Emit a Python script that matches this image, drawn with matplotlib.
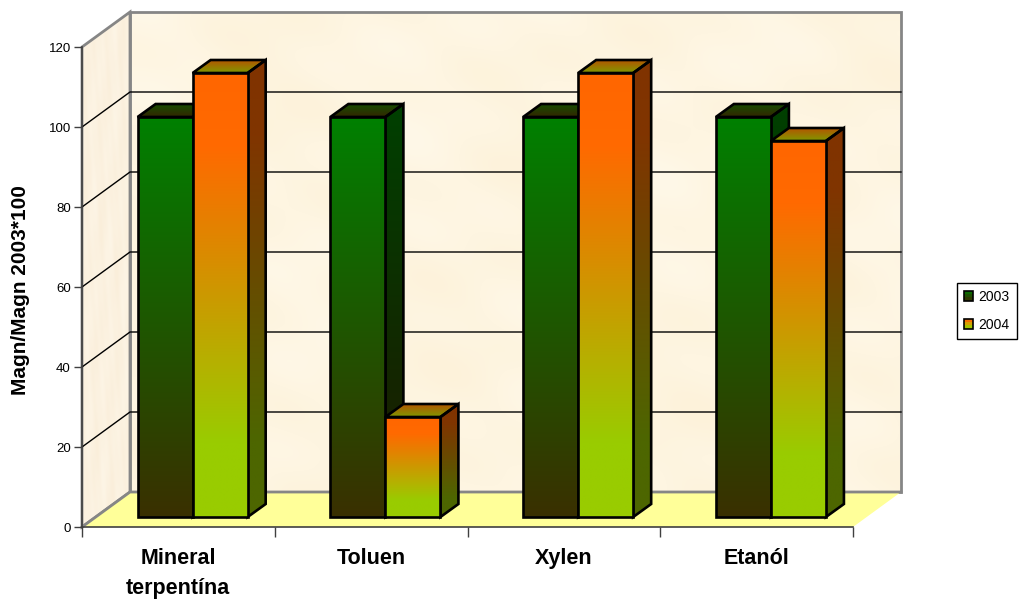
import numpy as np
import matplotlib
matplotlib.use("Agg")
import matplotlib.pyplot as plt
from matplotlib.colors import LinearSegmentedColormap as LSC
from matplotlib.patches import Polygon, Patch, Rectangle
from matplotlib.legend_handler import HandlerBase

categories = ["Mineral\nterpentína", "Toluen", "Xylen", "Etanól"]
series_names = ["2003", "2004"]
values_2003 = [100, 100, 100, 100]
values_2004 = [111, 25, 111, 94]
y_ticks = [0, 20, 40, 60, 80, 100, 120]

plt.rcParams["font.family"] = ["Liberation Sans", "DejaVu Sans"]
W, H = 1022, 599
fig = plt.figure(figsize=(W / 100, H / 100), dpi=100, facecolor="white")
ax = fig.add_axes([82 / W, 1 - 527 / H, 771 / W, 480 / H], facecolor="none")
XMAX, YMAX = 4, 120
# oblique projection, in data units
DX, DY = 48 / 771 * XMAX, 35 / 480 * YMAX      # wall depth
SX, SY = 0.074, 2.5                            # bar front offset from the front plane
BDX, BDY = 0.0934, 3.25                        # bar depth
BW = 0.2855                                    # bar width


def fill_image(poly, data, cm, z):
    pts = np.array(poly)
    x0, x1, y0, y1 = pts[:, 0].min(), pts[:, 0].max(), pts[:, 1].min(), pts[:, 1].max()
    im = ax.imshow(data, cmap=cm, vmin=0, vmax=1, extent=[x0, x1, y0, y1], origin="upper",
                   aspect="auto", zorder=z, interpolation="bilinear")
    clip = Polygon(pts, closed=True, transform=ax.transData, facecolor="none", edgecolor="none")
    ax.add_patch(clip)
    clip.set_clip_on(False)
    im.set_clip_box(fig.bbox)
    im.set_clip_path(clip)


def grad(poly, stops, z):
    cm = LSC.from_list("g", list(stops))
    fill_image(poly, np.linspace(0, 1, 256)[:, None], cm, z)
    ax.add_patch(Polygon(poly, closed=True, fill=False, edgecolor="black", lw=1.9, zorder=z + 0.1,
                         clip_on=False, joinstyle="miter"))


def mottle(nx, ny, phase):
    # soft parchment-like shading of the walls (decoration only)
    u, v = np.meshgrid(np.linspace(0, 1, nx), np.linspace(0, 1, ny))
    f = (np.sin(17 * u + 5 * v + phase) + np.sin(9 * v - 23 * u + 2 * phase)
         + np.sin(31 * v + 11 * u + 3 * phase) + 0.7 * np.sin(47 * u - 37 * v + phase))
    return (f - f.min()) / (f.max() - f.min())


WALL = "#868686"
back = [(DX, DY), (XMAX + DX, DY), (XMAX + DX, YMAX + DY), (DX, YMAX + DY)]
side = [(0, 0), (DX, DY), (DX, YMAX + DY), (0, YMAX)]
fill_image(back, mottle(300, 200, 0.7), LSC.from_list("w", ["#FDF2DA", "#FFF8E8"]), 1)
fill_image(side, mottle(60, 200, 2.1), LSC.from_list("s", ["#FAEEDA", "#FDF5E6"]), 1)
ax.add_patch(Polygon(back, fill=False, edgecolor=WALL, lw=2, zorder=1.05, clip_on=False))
ax.add_patch(Polygon(side, fill=False, edgecolor=WALL, lw=2, zorder=1.05, clip_on=False))
ax.add_patch(Polygon([(0, 0), (DX, DY), (XMAX + DX, DY), (XMAX, 0)],
                     facecolor="#FFFF99", edgecolor="none", zorder=1.1, clip_on=False))
ax.plot([0, DX, XMAX + DX], [0, DY, DY], color=WALL, lw=2, zorder=1.2, clip_on=False)
for t in y_ticks[1:-1]:
    ax.plot([0, DX, XMAX + DX], [t, t + DY, t + DY], color="black", lw=1.0, zorder=1.5, clip_on=False)

# front, side, top face colour stops (top to bottom / back to front)
STYLE_2003 = [("#008000", "#3A3000"), ("#004000", "#1E1900"), ("#174D00", "#332600")]
STYLE_2004 = [("#FF6600", "#FF6A00", "#E68000", "#CC9900", "#B3B300", "#99CC00", "#99CC00"),
              ("#803300", "#803500", "#734000", "#664D00", "#5A5A00", "#4D6600", "#4D6600"),
              ("#B35500", "#809900")]


def bar(x, v, style, z):
    b = SY
    f = [(x, b), (x + BW, b), (x + BW, b + v), (x, b + v)]
    s = [(x + BW, b), (x + BW + BDX, b + BDY), (x + BW + BDX, b + v + BDY), (x + BW, b + v)]
    t = [(x, b + v), (x + BW, b + v), (x + BW + BDX, b + v + BDY), (x + BDX, b + v + BDY)]
    grad(t, style[2], z)
    grad(s, style[1], z)
    grad(f, style[0], z + 0.2)


for i, (a, b) in enumerate(zip(values_2003, values_2004)):
    c = i + 0.5 + SX
    bar(c - BW, a, STYLE_2003, 3 + i)
    bar(c, b, STYLE_2004, 3.5 + i)

ax.set_xlim(0, XMAX)
ax.set_ylim(0, YMAX)
ax.set_yticks(y_ticks)
ax.set_xticks(range(XMAX + 1))
ax.set_xticklabels([])
ax.set_xticks(np.arange(len(categories)) + 0.5, categories, minor=True)
ax.tick_params(axis="y", length=6, width=1, color="#404040", labelsize=9.5, pad=2, labelcolor="black")
ax.tick_params(axis="x", which="major", length=7, width=1, color="#404040")
ax.tick_params(axis="x", which="minor", length=0, labelsize=15.5, pad=15)
for lab in ax.get_xticklabels(minor=True):
    lab.set_fontweight("bold")
    lab.set_linespacing(1.6)
for s in ("top", "right"):
    ax.spines[s].set_visible(False)
for s in ("left", "bottom"):
    ax.spines[s].set_color("#404040")
    ax.spines[s].set_linewidth(1.2)
    ax.spines[s].set_zorder(2)
fig.text(21 / W, 1 - 290 / H, "Magn/Magn 2003*100", rotation=90, ha="center", va="center",
         fontsize=15, fontweight="bold")


class Stack(HandlerBase):
    def __init__(self, cols):
        super().__init__()
        self.cols = cols

    def create_artists(self, legend, orig, xd, yd, w, h, fs, trans):
        n = len(self.cols)
        out = [Rectangle((-xd, -yd + h * (n - 1 - k) / n), w, h / n + 0.2, facecolor=c, edgecolor="none",
                         transform=trans) for k, c in enumerate(self.cols)]
        out.append(Rectangle((-xd, -yd), w, h, fill=False, edgecolor="black", lw=1.2, transform=trans))
        return out


h1, h2 = Patch(label=series_names[0]), Patch(label=series_names[1])
leg = fig.legend(handles=[h1, h2], labels=series_names, loc="upper left",
                 bbox_to_anchor=(957 / W, 1 - 283 / H), bbox_transform=fig.transFigure, borderaxespad=0,
                 fontsize=10, frameon=True, fancybox=False, edgecolor="black", framealpha=1,
                 handlelength=0.65, handleheight=0.65, handletextpad=0.4, labelspacing=1.0,
                 borderpad=0.5,
                 handler_map={h1: Stack(["#0C6A00", "#1E5000", "#2E3A00"]),
                              h2: Stack(["#F57000", "#D8A000", "#A5C400"])})
leg.get_frame().set_linewidth(1)
fig.savefig("out.png", dpi=100)
